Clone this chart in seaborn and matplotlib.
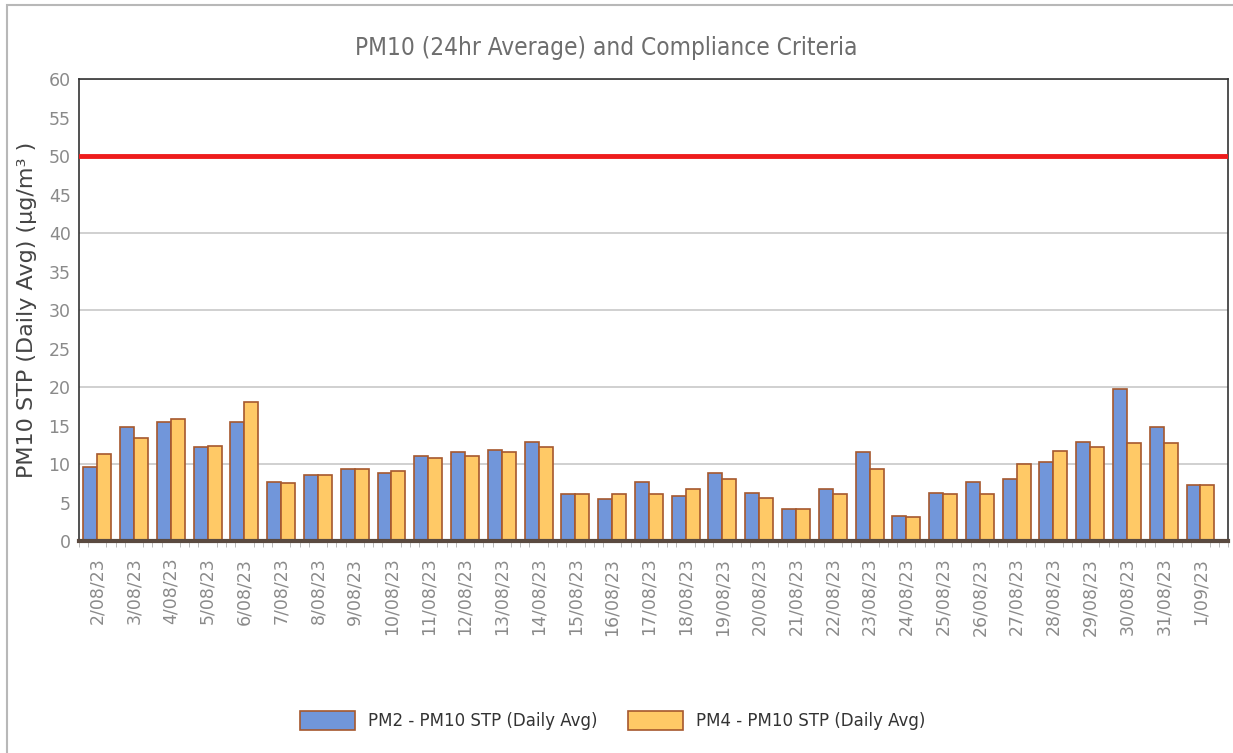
import numpy as np
import pandas as pd
import matplotlib
matplotlib.use("Agg")
from matplotlib import pyplot as plt
from matplotlib.patches import Rectangle
import seaborn as sns

dates = ["2/08/23", "3/08/23", "4/08/23", "5/08/23", "6/08/23", "7/08/23", "8/08/23",
         "9/08/23", "10/08/23", "11/08/23", "12/08/23", "13/08/23", "14/08/23", "15/08/23",
         "16/08/23", "17/08/23", "18/08/23", "19/08/23", "20/08/23", "21/08/23", "22/08/23",
         "23/08/23", "24/08/23", "25/08/23", "26/08/23", "27/08/23", "28/08/23", "29/08/23",
         "30/08/23", "31/08/23", "1/09/23"]
pm2 = [9.6, 14.8, 15.5, 12.2, 15.5, 7.7, 8.6, 9.3, 8.9, 11.0, 11.5, 11.8, 12.9, 6.1,
       5.4, 7.7, 5.9, 8.9, 6.3, 4.2, 6.8, 11.5, 3.3, 6.3, 7.7, 8.0, 10.3, 12.9, 19.7, 14.8, 7.3]
pm4 = [11.3, 13.4, 15.9, 12.4, 18.1, 7.5, 8.6, 9.3, 9.1, 10.8, 11.0, 11.5, 12.2, 6.1,
       6.1, 6.1, 6.8, 8.0, 5.6, 4.2, 6.1, 9.4, 3.1, 6.1, 6.1, 10.0, 11.7, 12.2, 12.7, 12.7, 7.3]
series = ["PM2 - PM10 STP (Daily Avg)", "PM4 - PM10 STP (Daily Avg)"]
criteria = 50

df = pd.DataFrame({
    "Date": dates * 2,
    "Value": pm2 + pm4,
    "Series": [series[0]] * len(dates) + [series[1]] * len(dates),
})

sns.set_style("white")
plt.rcParams["font.family"] = ["DejaVu Sans"]

fig = plt.figure(figsize=(12.33, 7.53), dpi=100)
ax = fig.add_axes([0.064, 0.2815, 0.932, 0.6135])

sns.barplot(data=df, x="Date", y="Value", hue="Series", order=dates,
            palette=["#7196DA", "#FFC966"], saturation=1, width=0.76, gap=0,
            edgecolor="#A5582E", linewidth=1.2, ax=ax, legend=True)

ax.set_ylim(0, 60)
ax.set_xlim(-0.5, len(dates) - 0.5)
ax.set_yticks(np.arange(0, 61, 5))
for y in range(10, 61, 10):
    ax.axhline(y, color="#c8c8c8", linewidth=1.2, zorder=0)
ax.axhline(criteria, color="#ee1c1c", linewidth=3.5, zorder=3)

ax.set_xticks(range(len(dates)))
ax.set_xticklabels(dates, rotation=90)
ax.set_xticks(np.arange(-0.5, len(dates), 0.25), minor=True)
ax.tick_params(axis="x", which="major", length=0, labelsize=12.5, labelcolor="#8a8a8a", pad=12)
ax.tick_params(axis="x", which="minor", length=4, color="#b0b0b0", bottom=True)
ax.tick_params(axis="y", length=0, labelsize=12.5, labelcolor="#8a8a8a", pad=6)

ax.set_xlabel("")
ax.set_ylabel("PM10 STP (Daily Avg) (µg/m³ )", fontsize=16, color="#444444", labelpad=8)
fig.suptitle("PM10 (24hr Average) and Compliance Criteria", x=0.492, y=0.952,
             fontsize=17.5, color="#6e6e6e", fontstretch="condensed")

for side in ["top", "right", "left"]:
    ax.spines[side].set_color("#333333")
    ax.spines[side].set_linewidth(1.2)
ax.spines["bottom"].set_color("#5a4a40")
ax.spines["bottom"].set_linewidth(3)

leg = ax.legend(loc="center", bbox_to_anchor=(0.497, 0.043), bbox_transform=fig.transFigure,
                ncol=2, frameon=False, fontsize=12, handlelength=3.3, handleheight=1.4,
                columnspacing=1.8)
for t in leg.get_texts():
    t.set_color("#333333")

fig.patches.append(Rectangle((0.006, -0.01), 1.0, 1.003, transform=fig.transFigure,
                             fill=False, edgecolor="#b8b8b8", linewidth=1.5))

fig.savefig("out.png", dpi=100)
